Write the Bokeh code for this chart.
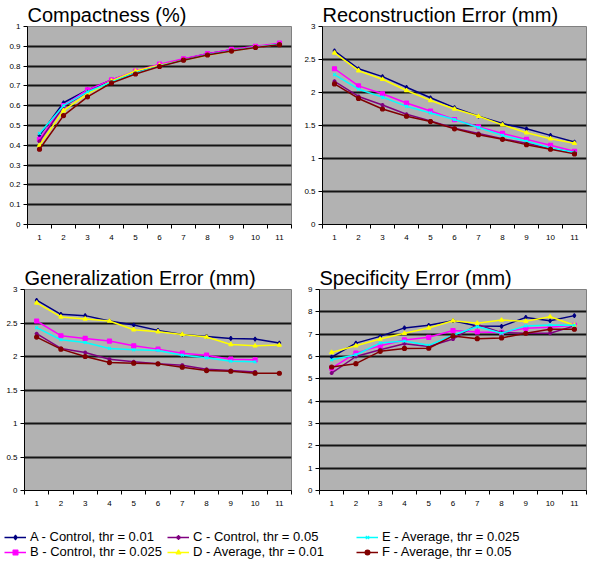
from bokeh.plotting import figure
from bokeh.layouts import column, row
from bokeh.models import (FixedTicker, CustomJSTickFormatter, Legend, LegendItem,
                          Range1d)
from bokeh.embed import file_html
from bokeh.resources import INLINE

# ---------------- data ----------------
components = [1, 2, 3, 4, 5, 6, 7, 8, 9, 10, 11]
component_bounds = [0.5, 1.5, 2.5, 3.5, 4.5, 5.5, 6.5, 7.5, 8.5, 9.5, 10.5, 11.5]

series_labels = ["A - Control, thr = 0.01", "B - Control, thr = 0.025",
                 "C - Control, thr = 0.05", "D - Average, thr = 0.01",
                 "E - Average, thr = 0.025", "F - Average, thr = 0.05"]
series_colors = ["#000080", "#FF00FF", "#800080", "#FFFF00", "#00FFFF", "#800000"]
series_markers = ["diamond", "square", "asterisk", "triangle", "x", "circle"]

# Compactness (%)
compact_A = [0.45, 0.615, 0.68, 0.73, 0.77, 0.805, 0.835, 0.862, 0.882, 0.898, 0.912]
compact_B = [0.43, 0.60, 0.68, 0.73, 0.775, 0.81, 0.837, 0.863, 0.884, 0.90, 0.916]
compact_C = [0.42, 0.595, 0.67, 0.725, 0.765, 0.80, 0.832, 0.858, 0.879, 0.895, 0.91]
compact_D = [0.40, 0.575, 0.66, 0.725, 0.775, 0.805, 0.83, 0.855, 0.876, 0.895, 0.91]
compact_E = [0.46, 0.60, 0.67, 0.72, 0.765, 0.80, 0.83, 0.857, 0.878, 0.895, 0.91]
compact_F = [0.38, 0.55, 0.645, 0.715, 0.76, 0.798, 0.83, 0.856, 0.876, 0.894, 0.908]
compact_ticks = [0, 0.1, 0.2, 0.3, 0.4, 0.5, 0.6, 0.7, 0.8, 0.9, 1]

# Reconstruction Error (mm)
recon_A = [2.63, 2.36, 2.24, 2.08, 1.92, 1.77, 1.64, 1.53, 1.45, 1.35, 1.25]
recon_B = [2.36, 2.10, 1.98, 1.84, 1.72, 1.59, 1.48, 1.38, 1.29, 1.20, 1.11]
recon_C = [2.17, 1.94, 1.81, 1.67, 1.57, 1.46, 1.38, 1.30, 1.23, 1.15, 1.09]
recon_D = [2.60, 2.33, 2.20, 2.03, 1.88, 1.75, 1.64, 1.51, 1.39, 1.30, 1.23]
recon_E = [2.27, 2.05, 1.93, 1.79, 1.69, 1.59, 1.47, 1.35, 1.26, 1.16, 1.09]
recon_F = [2.13, 1.91, 1.75, 1.64, 1.56, 1.45, 1.36, 1.29, 1.21, 1.14, 1.07]
recon_ticks = [0, 0.5, 1, 1.5, 2, 2.5, 3]

# Generalization Error (mm)
gen_A = [2.84, 2.63, 2.61, 2.53, 2.47, 2.39, 2.33, 2.30, 2.27, 2.26, 2.20]
gen_B = [2.53, 2.31, 2.27, 2.23, 2.16, 2.11, 2.05, 2.02, 1.96, 1.95]
gen_C = [2.34, 2.12, 2.06, 1.96, 1.92, 1.89, 1.87, 1.81, 1.79, 1.77]
gen_D = [2.80, 2.59, 2.56, 2.53, 2.40, 2.37, 2.33, 2.29, 2.18, 2.16, 2.17]
gen_E = [2.43, 2.25, 2.21, 2.12, 2.10, 2.09, 2.02, 1.98, 1.93, 1.92]
gen_F = [2.29, 2.11, 2.00, 1.91, 1.90, 1.89, 1.84, 1.79, 1.78, 1.75, 1.75]
gen_ticks = [0, 0.5, 1, 1.5, 2, 2.5, 3]

# Specificity Error (mm)
spec_A = [5.97, 6.60, 6.90, 7.28, 7.40, 7.60, 7.37, 7.35, 7.75, 7.60, 7.83]
spec_B = [5.48, 6.15, 6.48, 6.74, 6.86, 7.16, 7.10, 7.08, 7.26, 7.31, 7.40]
spec_C = [5.26, 6.00, 6.30, 6.57, 6.45, 6.78, 7.43, 7.07, 7.04, 7.04, 7.37]
spec_D = [6.18, 6.48, 6.78, 7.04, 7.28, 7.60, 7.49, 7.63, 7.58, 7.78, 7.40]
spec_E = [5.85, 6.08, 6.60, 6.69, 6.50, 6.95, 7.34, 7.04, 7.37, 7.41, 7.40]
spec_F = [5.53, 5.68, 6.23, 6.36, 6.37, 6.92, 6.80, 6.83, 7.04, 7.22, 7.22]
spec_ticks = [0, 1, 2, 3, 4, 5, 6, 7, 8, 9]

FONT = "Liberation Sans"
PLOT_BG = "#B2B2B2"
MARKER_SIZE = 4
LINE_W = 1.5


def make_panel(title, series, ticks, width, height, border_left, border_bottom):
    p = figure(width=width, height=height, title=title,
               x_range=Range1d(0.5, 11.5), y_range=Range1d(ticks[0], ticks[-1]),
               output_backend="svg", toolbar_location=None,
               min_border_left=border_left, min_border_right=4,
               min_border_top=0, min_border_bottom=border_bottom)
    p.title.text_font = FONT
    p.title.text_font_size = "20px"
    p.title.text_font_style = "normal"
    p.title.text_color = "black"
    p.title.align = "left"
    p.title.standoff = 2
    p.background_fill_color = PLOT_BG
    p.border_fill_color = "white"
    p.outline_line_color = "#808080"
    p.outline_line_width = 1

    p.xaxis.ticker = FixedTicker(ticks=components, minor_ticks=component_bounds)
    p.xaxis.major_tick_out = 0
    p.xaxis.major_tick_in = 0
    p.xaxis.minor_tick_out = 4
    p.xaxis.minor_tick_in = 0
    p.xaxis.major_label_standoff = 6
    p.yaxis.ticker = FixedTicker(ticks=ticks)
    p.yaxis.major_tick_out = 4
    p.yaxis.major_tick_in = 0
    p.yaxis.minor_tick_out = 0
    p.yaxis.minor_tick_in = 0
    p.yaxis.major_label_standoff = 3
    p.yaxis.formatter = CustomJSTickFormatter(code="return tick.toString();")
    for ax in (p.xaxis, p.yaxis):
        ax.axis_line_color = "black"
        ax.major_tick_line_color = "black"
        ax.minor_tick_line_color = "black"
        ax.major_label_text_font = FONT
        ax.major_label_text_font_size = "8px"
        ax.major_label_text_color = "black"

    p.xgrid.visible = False
    p.ygrid.ticker = FixedTicker(ticks=ticks[1:-1])
    p.ygrid.grid_line_color = "#141414"
    p.ygrid.grid_line_width = 2

    for ys, color, marker in zip(series, series_colors, series_markers):
        xs = components[:len(ys)]
        p.line(xs, ys, line_color=color, line_width=LINE_W)
        p.scatter(xs, ys, marker=marker, size=MARKER_SIZE, line_color=color,
                  fill_color=color, line_width=1.2)
    return p


p1 = make_panel("Compactness (%)",
                [compact_A, compact_B, compact_C, compact_D, compact_E, compact_F],
                compact_ticks, 295, 263, 27, 39)
p2 = make_panel("Reconstruction Error (mm)",
                [recon_A, recon_B, recon_C, recon_D, recon_E, recon_F],
                recon_ticks, 295, 263, 27, 39)
p3 = make_panel("Generalization Error (mm)",
                [gen_A, gen_B, gen_C, gen_D, gen_E, gen_F],
                gen_ticks, 295, 249, 24, 22)
p4 = make_panel("Specificity Error (mm)",
                [spec_A, spec_B, spec_C, spec_D, spec_E, spec_F],
                spec_ticks, 295, 249, 24, 22)

# ---------------- legend strip ----------------
# The strip's view range is placed away from the data so that only the
# legend entries (which need a renderer with data) are visible.
leg = figure(width=590, height=47, x_range=Range1d(100, 101), y_range=Range1d(100, 101),
             output_backend="svg", toolbar_location=None,
             x_axis_type=None, y_axis_type=None,
             min_border_left=0, min_border_right=0, min_border_top=0,
             min_border_bottom=0)
leg.outline_line_color = None
leg.xgrid.visible = False
leg.ygrid.visible = False
leg.background_fill_color = "white"
leg.border_fill_color = "white"

legend_series = [compact_A, compact_B, compact_C, compact_D, compact_E, compact_F]
items = []
for label, ys, color, marker in zip(series_labels, legend_series, series_colors,
                                    series_markers):
    lr = leg.line(components, ys, line_color=color, line_width=LINE_W)
    sr = leg.scatter(components, ys, marker=marker, size=MARKER_SIZE, line_color=color,
                     fill_color=color, line_width=1.2)
    items.append(LegendItem(label=label, renderers=[lr, sr]))

for k, vx in enumerate([4, 167, 356]):
    lg = Legend(items=items[2 * k:2 * k + 2], location=(vx, 0))
    lg.orientation = "vertical"
    lg.padding = 0
    lg.margin = 0
    lg.spacing = 0
    lg.border_line_color = None
    lg.background_fill_alpha = 0
    lg.glyph_width = 22
    lg.glyph_height = 12
    lg.label_height = 12
    lg.label_standoff = 4
    lg.label_text_font = FONT
    lg.label_text_font_size = "13px"
    lg.label_text_color = "black"
    leg.add_layout(lg, "center")

layout = column(row(p1, p2), row(p3, p4), leg)

open("out.html", "w").write(file_html(layout, INLINE))
